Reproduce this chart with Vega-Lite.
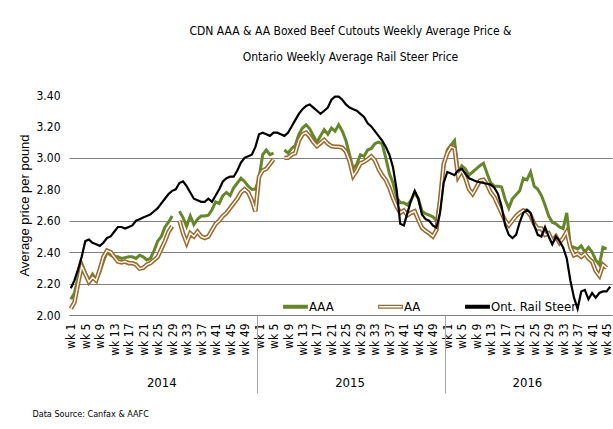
{
  "$schema": "https://vega.github.io/schema/vega-lite/v6.json",
  "width": 543,
  "height": 220,
  "autosize": "none",
  "padding": {"left": 69, "top": 95, "right": 1, "bottom": 114},
  "background": "white",
  "title": {
    "text": ["CDN AAA & AA Boxed Beef Cutouts Weekly Average Price &", "Ontario Weekly Average Rail Steer Price"],
    "font": "Liberation Sans Narrow, DejaVu Sans Condensed, Liberation Sans, sans-serif", "fontSize": 12, "fontWeight": "normal", "color": "#000000",
    "lineHeight": 26, "offset": 25, "anchor": "middle", "dx": 10
  },
  "data": {"values": [
    {"p":"2014-01","AAA":2.10,"AA":2.04,"Rail":2.17},
    {"p":"2014-02","AAA":2.14,"AA":2.08,"Rail":2.22},
    {"p":"2014-03","AAA":2.24,"AA":2.20,"Rail":2.29},
    {"p":"2014-04","AAA":2.33,"AA":2.31,"Rail":2.37},
    {"p":"2014-05","AAA":2.27,"AA":2.26,"Rail":2.47},
    {"p":"2014-06","AAA":2.22,"AA":2.21,"Rail":2.48},
    {"p":"2014-07","AAA":2.26,"AA":2.24,"Rail":2.46},
    {"p":"2014-08","AAA":2.22,"AA":2.22,"Rail":2.45},
    {"p":"2014-09","AAA":2.27,"AA":2.29,"Rail":2.44},
    {"p":"2014-10","AAA":2.34,"AA":2.37,"Rail":2.46},
    {"p":"2014-11","AAA":2.40,"AA":2.41,"Rail":2.49},
    {"p":"2014-12","AAA":2.38,"AA":2.40,"Rail":2.50},
    {"p":"2014-13","AAA":2.37,"AA":2.37,"Rail":2.53},
    {"p":"2014-14","AAA":2.37,"AA":2.34,"Rail":2.56},
    {"p":"2014-15","AAA":2.36,"AA":2.335,"Rail":2.56},
    {"p":"2014-16","AAA":2.365,"AA":2.34,"Rail":2.55},
    {"p":"2014-17","AAA":2.37,"AA":2.33,"Rail":2.56},
    {"p":"2014-18","AAA":2.37,"AA":2.33,"Rail":2.57},
    {"p":"2014-19","AAA":2.36,"AA":2.32,"Rail":2.60},
    {"p":"2014-20","AAA":2.38,"AA":2.295,"Rail":2.61},
    {"p":"2014-21","AAA":2.37,"AA":2.30,"Rail":2.62},
    {"p":"2014-22","AAA":2.35,"AA":2.32,"Rail":2.63},
    {"p":"2014-23","AAA":2.36,"AA":2.33,"Rail":2.64},
    {"p":"2014-24","AAA":2.41,"AA":2.35,"Rail":2.66},
    {"p":"2014-25","AAA":2.47,"AA":2.37,"Rail":2.68},
    {"p":"2014-26","AAA":2.50,"AA":2.42,"Rail":2.71},
    {"p":"2014-27","AAA":2.56,"AA":2.47,"Rail":2.74},
    {"p":"2014-28","AAA":2.59,"AA":2.53,"Rail":2.77},
    {"p":"2014-29","AAA":2.63,"AA":2.565,"Rail":2.79},
    {"p":"2014-30","AAA":null,"AA":null,"Rail":2.80},
    {"p":"2014-31","AAA":2.66,"AA":2.60,"Rail":2.84},
    {"p":"2014-32","AAA":2.62,"AA":2.52,"Rail":2.85},
    {"p":"2014-33","AAA":2.565,"AA":2.46,"Rail":2.82},
    {"p":"2014-34","AAA":2.63,"AA":2.52,"Rail":2.78},
    {"p":"2014-35","AAA":2.575,"AA":2.50,"Rail":2.74},
    {"p":"2014-36","AAA":2.61,"AA":2.53,"Rail":2.73},
    {"p":"2014-37","AAA":2.63,"AA":2.50,"Rail":2.72},
    {"p":"2014-38","AAA":2.63,"AA":2.49,"Rail":2.72},
    {"p":"2014-39","AAA":2.635,"AA":2.50,"Rail":2.74},
    {"p":"2014-40","AAA":2.67,"AA":2.54,"Rail":2.72},
    {"p":"2014-41","AAA":2.72,"AA":2.58,"Rail":2.76},
    {"p":"2014-42","AAA":2.71,"AA":2.60,"Rail":2.80},
    {"p":"2014-43","AAA":2.76,"AA":2.63,"Rail":2.85},
    {"p":"2014-44","AAA":2.78,"AA":2.65,"Rail":2.87},
    {"p":"2014-45","AAA":2.76,"AA":2.68,"Rail":2.88},
    {"p":"2014-46","AAA":2.81,"AA":2.71,"Rail":2.88},
    {"p":"2014-47","AAA":2.84,"AA":2.74,"Rail":2.92},
    {"p":"2014-48","AAA":2.87,"AA":2.78,"Rail":2.97},
    {"p":"2014-49","AAA":2.85,"AA":2.80,"Rail":3.00},
    {"p":"2014-50","AAA":2.82,"AA":2.78,"Rail":3.01},
    {"p":"2014-51","AAA":2.80,"AA":2.73,"Rail":3.02},
    {"p":"2014-52","AAA":2.80,"AA":2.66,"Rail":3.07},
    {"p":"2015-01","AAA":2.87,"AA":2.88,"Rail":3.15},
    {"p":"2015-02","AAA":3.02,"AA":2.92,"Rail":3.16},
    {"p":"2015-03","AAA":3.05,"AA":2.93,"Rail":3.15},
    {"p":"2015-04","AAA":3.02,"AA":2.96,"Rail":3.14},
    {"p":"2015-05","AAA":3.03,"AA":2.99,"Rail":3.16},
    {"p":"2015-06","AAA":null,"AA":null,"Rail":3.16},
    {"p":"2015-07","AAA":null,"AA":null,"Rail":3.15},
    {"p":"2015-08","AAA":3.05,"AA":3.00,"Rail":3.14},
    {"p":"2015-09","AAA":3.03,"AA":3.00,"Rail":3.16},
    {"p":"2015-10","AAA":3.06,"AA":3.02,"Rail":3.20},
    {"p":"2015-11","AAA":3.08,"AA":3.03,"Rail":3.24},
    {"p":"2015-12","AAA":3.15,"AA":3.11,"Rail":3.28},
    {"p":"2015-13","AAA":3.19,"AA":3.15,"Rail":3.31},
    {"p":"2015-14","AAA":3.21,"AA":3.16,"Rail":3.33},
    {"p":"2015-15","AAA":3.185,"AA":3.135,"Rail":3.34},
    {"p":"2015-16","AAA":3.14,"AA":3.10,"Rail":3.32},
    {"p":"2015-17","AAA":3.10,"AA":3.075,"Rail":3.30},
    {"p":"2015-18","AAA":3.14,"AA":3.095,"Rail":3.28},
    {"p":"2015-19","AAA":3.18,"AA":3.115,"Rail":3.30},
    {"p":"2015-20","AAA":3.15,"AA":3.09,"Rail":3.32},
    {"p":"2015-21","AAA":3.19,"AA":3.075,"Rail":3.37},
    {"p":"2015-22","AAA":3.17,"AA":3.07,"Rail":3.39},
    {"p":"2015-23","AAA":3.21,"AA":3.07,"Rail":3.39},
    {"p":"2015-24","AAA":3.17,"AA":3.065,"Rail":3.37},
    {"p":"2015-25","AAA":3.11,"AA":3.04,"Rail":3.34},
    {"p":"2015-26","AAA":3.02,"AA":2.98,"Rail":3.32},
    {"p":"2015-27","AAA":2.93,"AA":2.885,"Rail":3.31},
    {"p":"2015-28","AAA":2.96,"AA":2.92,"Rail":3.30},
    {"p":"2015-29","AAA":3.02,"AA":2.965,"Rail":3.28},
    {"p":"2015-30","AAA":3.01,"AA":2.975,"Rail":3.26},
    {"p":"2015-31","AAA":3.05,"AA":2.99,"Rail":3.22},
    {"p":"2015-32","AAA":3.06,"AA":3.01,"Rail":3.20},
    {"p":"2015-33","AAA":3.09,"AA":2.985,"Rail":3.17},
    {"p":"2015-34","AAA":3.10,"AA":2.93,"Rail":3.14},
    {"p":"2015-35","AAA":3.09,"AA":2.89,"Rail":3.11},
    {"p":"2015-36","AAA":3.00,"AA":2.86,"Rail":3.07},
    {"p":"2015-37","AAA":2.90,"AA":2.81,"Rail":3.02},
    {"p":"2015-38","AAA":2.84,"AA":2.745,"Rail":2.94},
    {"p":"2015-39","AAA":2.75,"AA":2.69,"Rail":2.80},
    {"p":"2015-40","AAA":2.715,"AA":2.65,"Rail":2.58},
    {"p":"2015-41","AAA":2.715,"AA":2.665,"Rail":2.57},
    {"p":"2015-42","AAA":2.70,"AA":2.635,"Rail":2.65},
    {"p":"2015-43","AAA":2.73,"AA":2.65,"Rail":2.73},
    {"p":"2015-44","AAA":2.78,"AA":2.66,"Rail":2.79},
    {"p":"2015-45","AAA":2.74,"AA":2.605,"Rail":2.74},
    {"p":"2015-46","AAA":2.66,"AA":2.555,"Rail":2.64},
    {"p":"2015-47","AAA":2.645,"AA":2.535,"Rail":2.61},
    {"p":"2015-48","AAA":2.635,"AA":2.52,"Rail":2.60},
    {"p":"2015-49","AAA":2.625,"AA":2.50,"Rail":2.57},
    {"p":"2015-50","AAA":2.60,"AA":2.54,"Rail":2.555},
    {"p":"2015-51","AAA":2.74,"AA":2.73,"Rail":2.65},
    {"p":"2015-52","AAA":2.94,"AA":2.96,"Rail":2.84},
    {"p":"2016-01","AAA":3.05,"AA":3.03,"Rail":2.91},
    {"p":"2016-02","AAA":3.08,"AA":3.07,"Rail":2.90},
    {"p":"2016-03","AAA":3.11,"AA":3.06,"Rail":2.89},
    {"p":"2016-04","AAA":2.91,"AA":2.88,"Rail":2.92},
    {"p":"2016-05","AAA":2.95,"AA":2.92,"Rail":2.93},
    {"p":"2016-06","AAA":2.93,"AA":2.87,"Rail":2.90},
    {"p":"2016-07","AAA":2.89,"AA":2.80,"Rail":2.87},
    {"p":"2016-08","AAA":2.91,"AA":2.77,"Rail":2.86},
    {"p":"2016-09","AAA":2.93,"AA":2.81,"Rail":2.85},
    {"p":"2016-10","AAA":2.95,"AA":2.855,"Rail":2.845},
    {"p":"2016-11","AAA":2.965,"AA":2.86,"Rail":2.84},
    {"p":"2016-12","AAA":2.90,"AA":2.83,"Rail":2.835},
    {"p":"2016-13","AAA":2.84,"AA":2.78,"Rail":2.83},
    {"p":"2016-14","AAA":2.82,"AA":2.75,"Rail":2.81},
    {"p":"2016-15","AAA":2.82,"AA":2.70,"Rail":2.77},
    {"p":"2016-16","AAA":2.815,"AA":2.65,"Rail":2.69},
    {"p":"2016-17","AAA":2.735,"AA":2.60,"Rail":2.57},
    {"p":"2016-18","AAA":2.68,"AA":2.57,"Rail":2.51},
    {"p":"2016-19","AAA":2.74,"AA":2.60,"Rail":2.49},
    {"p":"2016-20","AAA":2.765,"AA":2.63,"Rail":2.51},
    {"p":"2016-21","AAA":2.79,"AA":2.65,"Rail":2.59},
    {"p":"2016-22","AAA":2.87,"AA":2.665,"Rail":2.65},
    {"p":"2016-23","AAA":2.86,"AA":2.66,"Rail":2.67},
    {"p":"2016-24","AAA":2.91,"AA":2.633,"Rail":2.65},
    {"p":"2016-25","AAA":2.82,"AA":2.58,"Rail":2.57},
    {"p":"2016-26","AAA":2.80,"AA":2.55,"Rail":2.51},
    {"p":"2016-27","AAA":2.76,"AA":2.55,"Rail":2.50},
    {"p":"2016-28","AAA":2.70,"AA":2.51,"Rail":2.56},
    {"p":"2016-29","AAA":2.63,"AA":2.52,"Rail":2.50},
    {"p":"2016-30","AAA":2.59,"AA":2.47,"Rail":2.45},
    {"p":"2016-31","AAA":2.58,"AA":2.50,"Rail":2.50},
    {"p":"2016-32","AAA":2.56,"AA":2.46,"Rail":2.47},
    {"p":"2016-33","AAA":2.55,"AA":2.49,"Rail":2.43},
    {"p":"2016-34","AAA":2.65,"AA":2.53,"Rail":2.36},
    {"p":"2016-35","AAA":2.44,"AA":2.43,"Rail":2.22},
    {"p":"2016-36","AAA":2.43,"AA":2.38,"Rail":2.11},
    {"p":"2016-37","AAA":2.42,"AA":2.39,"Rail":2.04},
    {"p":"2016-38","AAA":2.44,"AA":2.37,"Rail":2.15},
    {"p":"2016-39","AAA":2.40,"AA":2.39,"Rail":2.16},
    {"p":"2016-40","AAA":2.43,"AA":2.36,"Rail":2.10},
    {"p":"2016-41","AAA":2.40,"AA":2.34,"Rail":2.14},
    {"p":"2016-42","AAA":2.35,"AA":2.28,"Rail":2.11},
    {"p":"2016-43","AAA":2.32,"AA":2.25,"Rail":2.14},
    {"p":"2016-44","AAA":2.43,"AA":2.32,"Rail":2.15},
    {"p":"2016-45","AAA":2.42,"AA":2.30,"Rail":2.15},
    {"p":"2016-46","AAA":null,"AA":null,"Rail":2.18}
  ]},
  "layer": [
    {
      "mark": {"type": "line", "strokeWidth": 3, "invalid": "break-paths-filter-domains"},
      "encoding": {
        "x": {"field": "p", "type": "ordinal", "scale": {"type": "point", "padding": 0.5},
          "axis": {"orient": "bottom", "title": null, "values": ["2014-01","2014-05","2014-09","2014-13","2014-17","2014-21","2014-25","2014-29","2014-33","2014-37","2014-41","2014-45","2014-49","2015-01","2015-05","2015-09","2015-13","2015-17","2015-21","2015-25","2015-29","2015-33","2015-37","2015-41","2015-45","2015-49","2016-01","2016-05","2016-09","2016-13","2016-17","2016-21","2016-25","2016-29","2016-33","2016-37","2016-41","2016-45"],
            "labelExpr": "'wk ' + toNumber(substring(datum.value, 5, 7))",
            "labelAngle": 270, "labelFont": "Liberation Sans Narrow, DejaVu Sans Condensed, Liberation Sans, sans-serif", "labelFontSize": 12, "labelColor": "#000000",
            "labelPadding": 8, "labelOverlap": false, "ticks": false, "grid": false,
            "domain": true, "domainColor": "#808080", "domainWidth": 1}},
        "y": {"field": "AAA", "type": "quantitative", "title": "Average price per pound",
          "scale": {"domain": [2, 3.4], "nice": false, "zero": false},
          "axis": {"gridOpacity": {"condition": {"test": "datum.value > 2.7 && datum.value < 2.9 || datum.value > 3.1", "value": 0}, "value": 1}}},
        "color": {"datum": "AAA", "type": "nominal",
          "scale": {"domain": ["AAA", "AA", "Ont. Rail Steer"], "range": ["#66862a", "#9a6a2e", "#000000"]},
          "legend": {"orient": "none", "legendX": 214, "legendY": 199, "direction": "horizontal", "title": null,
            "symbolType": "M-1,-0.11H1V0.11H-1Z", "symbolSize": 560, "symbolStrokeWidth": 1.2,
            "labelFont": "Liberation Sans Narrow, DejaVu Sans Condensed, Liberation Sans, sans-serif", "labelFontSize": 13, "labelColor": "#000000", "labelOffset": 1, "labelLimit": 200,
            "columnPadding": 42,
            "encode": {"symbols": {"update": {
              "fill": {"signal": "datum.value === 'AA' ? '#ffffff' : scale('color', datum.value)"},
              "stroke": {"signal": "scale('color', datum.value)"}}}}}}
      }
    },
    {
      "mark": {"type": "line", "strokeWidth": 4.5, "invalid": "break-paths-filter-domains"},
      "encoding": {
        "x": {"field": "p", "type": "ordinal",
          "axis": {"orient": "bottom", "title": null, "values": ["2014-26", "2015-26", "2016-23"],
            "labelExpr": "substring(datum.value, 0, 4)", "labelDx": 1.8, "labelAngle": 0,
            "labelFont": "Liberation Sans Narrow, DejaVu Sans Condensed, Liberation Sans, sans-serif", "labelFontSize": 13, "labelColor": "#000000",
            "labelPadding": 67, "labelBaseline": "middle", "ticks": false, "domain": false, "grid": false}},
        "y": {"field": "AA", "type": "quantitative", "title": "Average price per pound"},
        "color": {"datum": "AA", "type": "nominal"}
      }
    },
    {
      "mark": {"type": "line", "strokeWidth": 1.4, "color": "#ffffff", "invalid": "break-paths-filter-domains"},
      "encoding": {
        "x": {"field": "p", "type": "ordinal",
          "axis": {"orient": "bottom", "values": ["2014-52", "2015-52"], "tickOffset": 1.81, "tickSize": 78,
            "tickColor": "#a6a6a6", "tickWidth": 1, "labels": false, "domain": false, "grid": false,
            "title": "Data Source: Canfax & AAFC", "titleFont": "Liberation Sans Narrow, DejaVu Sans Condensed, Liberation Sans, sans-serif", "titleFontSize": 9,
            "titleFontWeight": "normal", "titleColor": "#000000", "titleAnchor": "start", "titleAlign": "left",
            "titleBaseline": "middle", "titleX": -37, "titleY": 98}},
        "y": {"field": "AA", "type": "quantitative", "title": "Average price per pound"}
      }
    },
    {
      "mark": {"type": "line", "strokeWidth": 2.2, "invalid": "break-paths-filter-domains"},
      "encoding": {
        "x": {"field": "p", "type": "ordinal", "axis": null},
        "y": {"field": "Rail", "type": "quantitative", "title": "Average price per pound"},
        "color": {"datum": "Ont. Rail Steer", "type": "nominal"}
      }
    }
  ],
  "resolve": {"axis": {"x": "independent"}},
  "config": {
    "view": {"stroke": null},
    "axisY": {
      "values": [2, 2.2, 2.4, 2.6, 2.8, 3.0, 3.2, 3.4], "tickCount": 8, "format": ".2f", "domain": false, "ticks": false,
      "labelOverlap": false, "labelFlush": false,
      "labelPadding": 9, "labelFont": "Liberation Sans Narrow, DejaVu Sans Condensed, Liberation Sans, sans-serif", "labelFontSize": 12, "labelColor": "#000000",
      "gridColor": "#808080", "gridWidth": 1,
      "titleFont": "Liberation Sans", "titleFontSize": 13, "titleFontWeight": "normal", "titleColor": "#000000", "titlePadding": 4
    }
  }
}
